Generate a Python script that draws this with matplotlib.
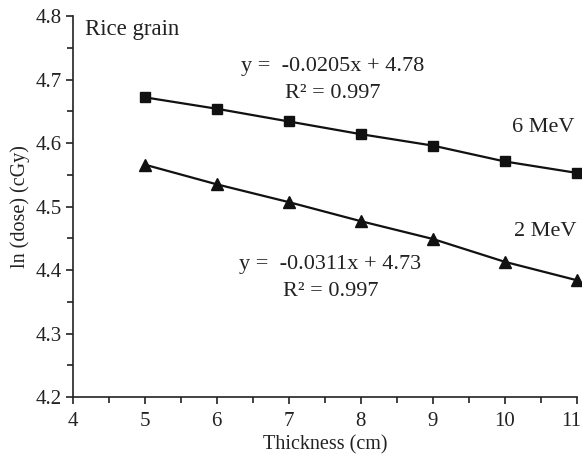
import matplotlib
matplotlib.use('Agg')
import matplotlib.pyplot as plt
import matplotlib.transforms as mtransforms
from matplotlib.ticker import MultipleLocator

plt.rcParams['font.family'] = ['Liberation Serif', 'DejaVu Serif']
plt.rcParams['font.size'] = 14

# data
thickness = [5, 6, 7, 8, 9, 10, 11]
ln_dose_6mev = [4.672, 4.654, 4.634, 4.614, 4.596, 4.571, 4.553]
ln_dose_2mev = [4.566, 4.535, 4.507, 4.477, 4.449, 4.413, 4.384]
x_ticks = [4, 5, 6, 7, 8, 9, 10, 11]

fig = plt.figure(figsize=(5.82, 4.58), dpi=100)
ax = fig.add_axes([0.125, 0.133, 0.866, 0.832])

ax.plot(thickness, ln_dose_6mev, color='#111111', lw=1.6,
        marker='s', markersize=7.5, clip_on=False)
ax.plot(thickness, ln_dose_2mev, color='#111111', lw=1.6,
        marker='^', markersize=8, clip_on=False)

# annotations
txt = dict(ha='center', va='center', fontsize=16, color='#222222')
ax.text(4.17, 4.77, 'Rice grain', fontsize=16.5, color='#222222')
ax.text(7.61, 4.72, 'y =  -0.0205x + 4.78', **txt)
ax.text(7.61, 4.678, 'R² = 0.997', **txt)
ax.text(10.54, 4.624, '6 MeV', **txt)
ax.text(10.56, 4.46, '2 MeV', **txt)
ax.text(7.58, 4.408, 'y =  -0.0311x + 4.73', **txt)
ax.text(7.58, 4.367, 'R² = 0.997', **txt)

ax.set_xlim(4, 11)
ax.set_ylim(4.2, 4.8)
ax.set_xticks(x_ticks)
ax.xaxis.set_minor_locator(MultipleLocator(0.5))
ax.yaxis.set_major_locator(MultipleLocator(0.1))
ax.yaxis.set_minor_locator(MultipleLocator(0.05))
ax.yaxis.set_major_formatter(plt.FormatStrFormatter('%.1f'))
ax.tick_params(which='major', length=5, width=1.2, color='#222222',
               labelsize=15, labelcolor='#222222', pad=3)
ax.tick_params(axis='x', which='major', pad=6)
ax.tick_params(which='minor', length=4, width=1.2, color='#222222')

for s in ['top', 'right']:
    ax.spines[s].set_visible(False)
for s in ['left', 'bottom']:
    ax.spines[s].set_linewidth(1.2)
    ax.spines[s].set_color('#222222')

ax.set_xlabel('Thickness (cm)', fontsize=14.5, labelpad=3, color='#222222')
ax.set_ylabel('ln (dose) (cGy)', fontsize=14.5, labelpad=4, color='#222222')

# nudge the last x tick label so it stays inside the picture
last_tick = ax.xaxis.get_major_ticks()[len(x_ticks) - 1]
last_tick.label1.set_transform(last_tick.label1.get_transform() +
                               mtransforms.ScaledTranslation(-0.06, 0, fig.dpi_scale_trans))

fig.savefig('out.png', dpi=100)
